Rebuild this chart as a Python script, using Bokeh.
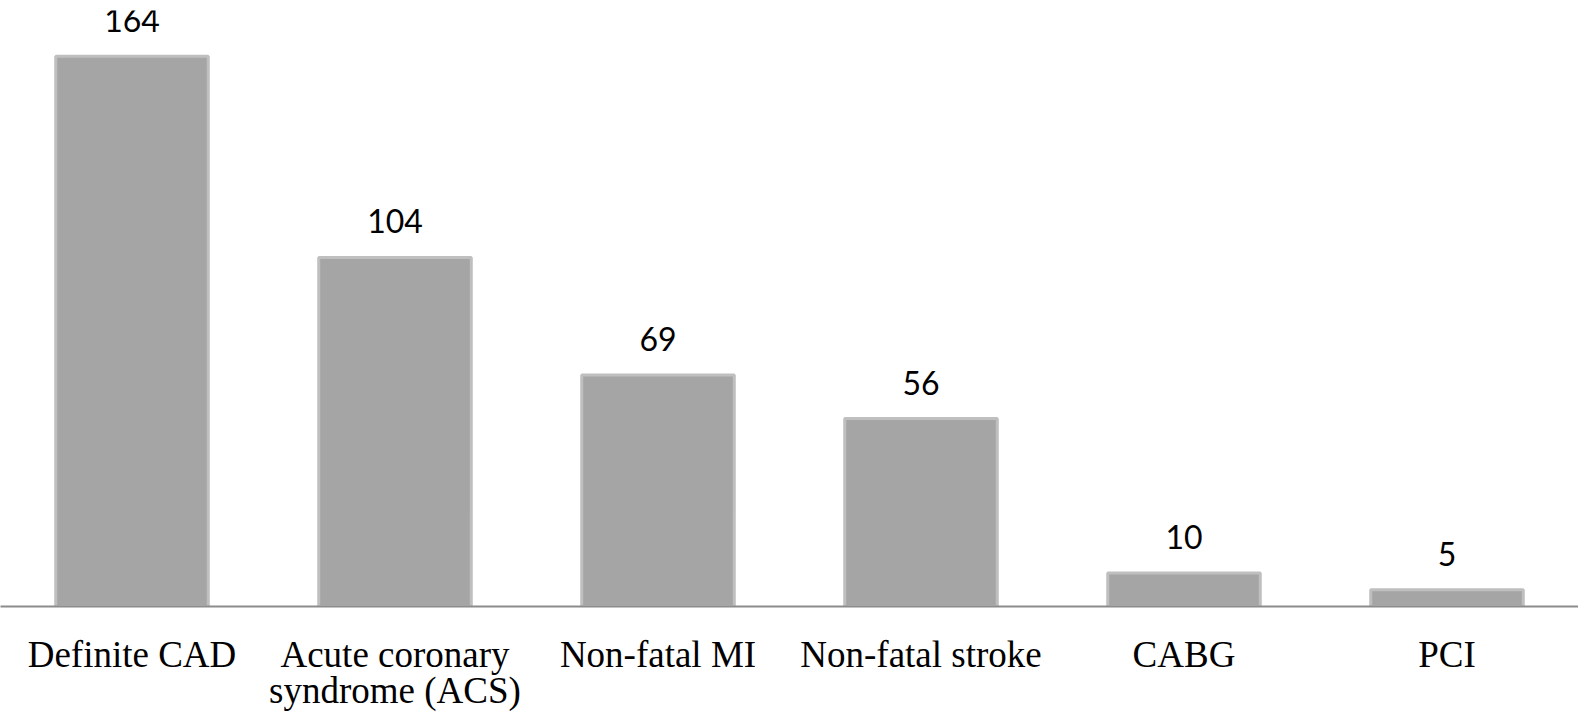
from bokeh.plotting import figure
from bokeh.models import ColumnDataSource, Range1d, FactorRange
from bokeh.embed import file_html
from bokeh.resources import INLINE
from bokeh.core.properties import value

categories = ["Definite CAD", "Acute coronary\nsyndrome (ACS)", "Non-fatal MI",
              "Non-fatal stroke", "CABG", "PCI"]
counts = [164, 104, 69, 56, 10, 5]
labels = [str(c) for c in counts]

src = ColumnDataSource(dict(cat=categories, val=counts, lab=labels))

p = figure(frame_width=1578, frame_height=596, x_range=FactorRange(*categories, range_padding=0),
           y_range=Range1d(0, 177.6), output_backend="svg", toolbar_location=None,
           min_border_left=0, min_border_right=0, min_border_top=10, min_border_bottom=0)

p.vbar(x="cat", top="val", width=0.58, source=src, fill_color="#A5A5A5",
       line_color="#BFBFBF", line_width=3)

p.text(x="cat", y="val", text="lab", source=src, text_align="center",
       text_baseline="alphabetic", y_offset=-36, text_font=value("Lato"),
       text_font_size="32px", text_color="#000000")

p.yaxis.visible = False
p.xgrid.visible = False
p.ygrid.visible = False
p.outline_line_color = None
p.xaxis.axis_line_color = "#8C8C8C"
p.xaxis.axis_line_width = 2
p.xaxis.major_tick_line_color = None
p.xaxis.minor_tick_line_color = None
p.xaxis.major_label_text_font = "Liberation Serif"
p.xaxis.major_label_text_font_size = "37px"
p.xaxis.major_label_text_line_height = 0.9
p.xaxis.major_label_text_color = "#000000"
p.xaxis.major_label_standoff = 21
p.xaxis.major_label_orientation = "horizontal"

open("out.html", "w").write(file_html(p, INLINE))
